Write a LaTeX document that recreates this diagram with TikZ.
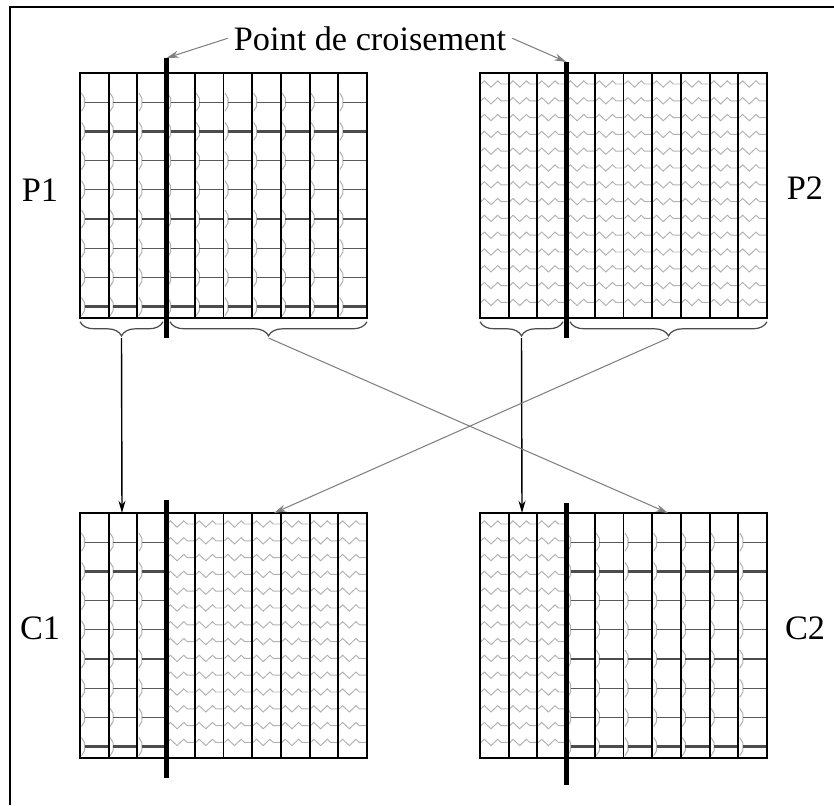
\documentclass[tikz,border=0pt]{standalone}
\usepackage{fontspec}
\setmainfont{Liberation Serif}
\usetikzlibrary{arrows.meta,decorations.pathmorphing,decorations.pathreplacing}
\tikzset{
  frame/.style={line width=1pt},
  cut/.style={line width=2.4pt},
  colline/.style={line width=1.1pt},
  brickarc/.style={gray!60,line width=0.6pt},
  brick/.style={gray!70!black,line width=0.7pt},
  brickdark/.style={gray!60!black,line width=1.3pt},
  zig/.style={gray!60,line width=0.55pt,decorate,decoration={zigzag,segment length=7.6pt,amplitude=1.8pt}},
  genebrace/.style={decorate,decoration={brace,mirror,amplitude=8pt,raise=1pt},gray!60!black,line width=0.7pt},
  lbl/.style={font=\fontsize{19.5}{22}\selectfont},
  xarr/.style={-{Stealth[length=7pt,width=4pt]},line width=0.8pt},
  carr/.style={-{Stealth[length=7pt,width=4pt]},gray,line width=0.6pt}
}
% left x, top y, number of columns
\newcommand{\brickcells}[3]{%
  \foreach \i in {1,...,#3}{
    \foreach \k/\st in {1/brick,2/brickdark,3/brick,4/brick,5/brickdark,6/brick,7/brick,8/brickdark}{
      \pgfmathsetmacro{\xa}{#1+28.7*(\i-1)}
      \pgfmathsetmacro{\yk}{#2+29.2*\k}
      \draw[brickarc] (\xa+1.5,\yk-9) -- (\xa+4.5,\yk-4) -- (\xa+4.5,\yk+4) -- (\xa+1.5,\yk+9);
      \draw[\st] (\xa+4.5,\yk) -- (\xa+28,\yk);
    }}}
\newcommand{\zigcells}[3]{%
  \foreach \i in {1,...,#3}{
    \foreach \k in {0,...,13}{
      \pgfmathsetmacro{\xa}{#1+28.7*(\i-1)}
      \pgfmathsetmacro{\yk}{#2+11+16.8*\k}
      \draw[zig] (\xa+1,\yk) -- (\xa+27.7,\yk);
    }}}
% columns and border of one chromosome
\newcommand{\gridlines}[2]{%
  \foreach \i in {1,...,9}
    \draw[colline] (#1+28.7*\i,#2) -- ++(0,245);
  \draw[colline] (#1,#2) rectangle ++(287,245);}

\begin{document}
\begin{tikzpicture}[x=0.02cm,y=-0.02cm]
  \useasboundingbox (0,0) rectangle (834,805);
  \draw[frame] (10,805) -- (10,7) -- (834,7);

  % parents
  \brickcells{80}{73}{10}
  \gridlines{80}{73}
  \zigcells{480}{73}{10}
  \gridlines{480}{73}
  % children
  \brickcells{80}{513}{3}
  \zigcells{166.1}{513}{7}
  \gridlines{80}{513}
  \zigcells{480}{513}{3}
  \brickcells{566.1}{513}{7}
  \gridlines{480}{513}

  % crossover cuts
  \coordinate (p1cut) at (166.5,58);
  \coordinate (p2cut) at (566.5,62);
  \draw[cut] (p1cut) -- (166.5,338);
  \draw[cut] (p2cut) -- (566.5,338);
  \draw[cut] (166.5,500) -- (166.5,778);
  \draw[cut] (566.5,503) -- (566.5,785);

  % braces
  \draw[genebrace] (80,320) -- (163,320);
  \draw[genebrace] (170,320) -- (367,320);
  \draw[genebrace] (480,320) -- (563,320);
  \draw[genebrace] (570,320) -- (767,320);
  \coordinate (p1a) at (121.5,338);
  \coordinate (p1b) at (268.5,338);
  \coordinate (p2a) at (521.5,338);
  \coordinate (p2b) at (668.5,338);
  \coordinate (c1a) at (122,513);
  \coordinate (c1b) at (274,513);
  \coordinate (c2a) at (522,513);
  \coordinate (c2b) at (668,513);
  \draw[xarr] (p1a) -- (c1a);
  \draw[xarr] (p2a) -- (c2a);
  \draw[carr] (p1b) -- (c2b);
  \draw[carr] (p2b) -- (c1b);

  % labels
  \node[lbl,anchor=base] (title) at (370,50) {Point de croisement};
  \draw[carr] (title.west) -- (p1cut);
  \draw[carr] (title.east) -- (p2cut);
  \node[lbl] (p1lbl) at (40,190) {P1};
  \node[lbl] (p2lbl) at (805,188) {P2};
  \node[lbl] (c1lbl) at (40,628) {C1};
  \node[lbl] (c2lbl) at (805,628) {C2};
\end{tikzpicture}
\end{document}
